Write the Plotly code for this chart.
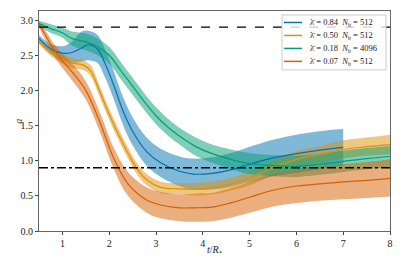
import plotly.graph_objects as go

# ---- data ----
t_blue = [0.5, 0.75, 1.0, 1.2, 1.4, 1.55, 1.75, 1.9, 2.1, 2.3, 2.5, 2.8, 3.1, 3.5, 3.8, 4.2, 4.6, 5.0, 5.5, 6.0, 6.5, 7.0]
a_blue = [2.74, 2.59, 2.53, 2.54, 2.60, 2.65, 2.59, 2.40, 2.07, 1.70, 1.42, 1.13, 0.97, 0.85, 0.81, 0.82, 0.87, 0.95, 1.04, 1.10, 1.15, 1.19]
lo_blue = [2.68, 2.52, 2.43, 2.39, 2.41, 2.43, 2.39, 2.20, 1.87, 1.50, 1.22, 0.93, 0.77, 0.64, 0.59, 0.59, 0.63, 0.70, 0.78, 0.83, 0.88, 0.93]
hi_blue = [2.79, 2.66, 2.63, 2.69, 2.83, 2.85, 2.79, 2.60, 2.27, 1.90, 1.62, 1.33, 1.17, 1.06, 1.03, 1.05, 1.11, 1.20, 1.30, 1.37, 1.42, 1.45]

t_yel = [0.5, 0.75, 1.0, 1.2, 1.45, 1.6, 1.8, 2.0, 2.2, 2.4, 2.6, 2.8, 3.1, 3.5, 4.0, 4.5, 5.0, 5.5, 6.0, 6.5, 7.0, 7.5, 8.0]
a_yel = [2.70, 2.55, 2.45, 2.39, 2.36, 2.28, 1.98, 1.66, 1.37, 1.11, 0.88, 0.73, 0.62, 0.60, 0.60, 0.65, 0.75, 0.90, 1.02, 1.09, 1.16, 1.20, 1.23]
lo_yel = [2.66, 2.49, 2.38, 2.32, 2.29, 2.20, 1.90, 1.58, 1.29, 1.03, 0.80, 0.65, 0.54, 0.52, 0.51, 0.56, 0.65, 0.79, 0.90, 0.97, 1.03, 1.07, 1.09]
hi_yel = [2.74, 2.61, 2.52, 2.46, 2.43, 2.36, 2.06, 1.74, 1.45, 1.19, 0.96, 0.81, 0.70, 0.68, 0.69, 0.74, 0.85, 1.01, 1.14, 1.21, 1.29, 1.33, 1.37]

t_grn = [0.5, 0.75, 1.0, 1.2, 1.5, 1.75, 2.0, 2.25, 2.5, 2.75, 3.0, 3.25, 3.5, 3.85, 4.2, 4.6, 5.0, 5.5, 6.0, 6.5, 7.0, 7.5, 8.0]
a_grn = [2.95, 2.88, 2.82, 2.74, 2.69, 2.62, 2.50, 2.28, 2.06, 1.84, 1.64, 1.48, 1.35, 1.20, 1.10, 1.02, 0.96, 0.93, 0.92, 0.95, 0.99, 1.03, 1.06]
lo_grn = [2.91, 2.82, 2.75, 2.64, 2.57, 2.50, 2.38, 2.16, 1.94, 1.72, 1.52, 1.36, 1.23, 1.07, 0.97, 0.88, 0.81, 0.78, 0.77, 0.80, 0.84, 0.88, 0.91]
hi_grn = [2.99, 2.94, 2.89, 2.84, 2.81, 2.74, 2.62, 2.40, 2.18, 1.96, 1.76, 1.60, 1.47, 1.33, 1.23, 1.16, 1.11, 1.08, 1.07, 1.10, 1.14, 1.18, 1.21]

t_org = [0.5, 0.65, 0.8, 1.0, 1.2, 1.5, 1.8, 2.1, 2.4, 2.8, 3.1, 3.5, 3.8, 4.2, 4.6, 5.0, 5.5, 6.0, 6.5, 7.0, 7.5, 8.0]
a_org = [2.94, 2.77, 2.60, 2.42, 2.27, 2.00, 1.55, 1.03, 0.67, 0.44, 0.37, 0.33, 0.33, 0.34, 0.40, 0.48, 0.58, 0.64, 0.67, 0.70, 0.72, 0.75]
lo_org = [2.90, 2.70, 2.52, 2.32, 2.15, 1.87, 1.41, 0.88, 0.50, 0.26, 0.18, 0.14, 0.13, 0.14, 0.19, 0.26, 0.35, 0.40, 0.43, 0.45, 0.47, 0.49]
hi_org = [2.98, 2.84, 2.68, 2.52, 2.39, 2.13, 1.69, 1.18, 0.84, 0.62, 0.56, 0.52, 0.53, 0.54, 0.61, 0.70, 0.81, 0.88, 0.92, 0.95, 0.98, 1.02]

labels = ["λ̄ = 0.84  <i>N</i><sub>b</sub> = 512",
          "λ̄ = 0.50  <i>N</i><sub>b</sub> = 512",
          "λ̄ = 0.18  <i>N</i><sub>b</sub> = 4096",
          "λ̄ = 0.07  <i>N</i><sub>b</sub> = 512"]
colors = ["#0173b2", "#de8f05", "#029e73", "#d55e00"]
fills = ["rgba(1,115,178,0.5)", "rgba(222,143,5,0.5)", "rgba(2,158,115,0.5)", "rgba(213,94,0,0.5)"]

upper_ref = 2.9
lower_ref = 0.9
x_ticks = [1, 2, 3, 4, 5, 6, 7, 8]
y_ticks = [0.0, 0.5, 1.0, 1.5, 2.0, 2.5, 3.0]
y_ticklabels = ["0.0", "0.5", "1.0", "1.5", "2.0", "2.5", "3.0"]

series = [
    (t_blue, a_blue, lo_blue, hi_blue),
    (t_yel, a_yel, lo_yel, hi_yel),
    (t_grn, a_grn, lo_grn, hi_grn),
    (t_org, a_org, lo_org, hi_org),
]

fig = go.Figure()
for i, (t, a, lo, hi) in enumerate(series):
    fig.add_trace(go.Scatter(x=t, y=lo, mode="lines", line=dict(width=0, shape="spline"),
                             showlegend=False, hoverinfo="skip"))
    fig.add_trace(go.Scatter(x=t, y=hi, mode="lines", line=dict(width=0, shape="spline"),
                             fill="tonexty", fillcolor=fills[i], showlegend=False, hoverinfo="skip"))
for i, (t, a, lo, hi) in enumerate(series):
    fig.add_trace(go.Scatter(x=t, y=a, mode="lines", name=labels[i], showlegend=False,
                             line=dict(color=colors[i], width=1.2, shape="spline")))

fig.add_trace(go.Scatter(x=[0.5, 8], y=[upper_ref, upper_ref], mode="lines",
                         line=dict(color="black", width=1.3, dash="dash"), showlegend=False))
fig.add_trace(go.Scatter(x=[0.5, 8], y=[lower_ref, lower_ref], mode="lines",
                         line=dict(color="black", width=1.3, dash="dashdot"), showlegend=False))

font_family = "Liberation Serif, DejaVu Serif, serif"

# ---- manual compact legend (matplotlib style) ----
W, H = 403, 269
ML, MR, MT, MB = 39, 13, 11, 37.5
pw, ph = W - ML - MR, H - MT - MB
px = lambda x: (x - ML) / pw
py = lambda y: 1 - (y - MT) / ph

shapes = [dict(type="rect", xref="paper", yref="paper", layer="above",
               x0=px(282), x1=px(386), y0=py(70), y1=py(15),
               fillcolor="rgba(255,255,255,0.8)", line=dict(color="#cccccc", width=1))]
annotations = []
for i, lab in enumerate(labels):
    yy = py(22.5 + 13 * i)
    shapes.append(dict(type="line", xref="paper", yref="paper", layer="above",
                       x0=px(284), x1=px(302), y0=yy, y1=yy,
                       line=dict(color=colors[i], width=1.5)))
    annotations.append(dict(xref="paper", yref="paper", x=px(308), y=yy, xanchor="left",
                            yanchor="middle", showarrow=False, text=lab,
                            font=dict(size=8.5, family=font_family, color="#222")))

annotations.append(dict(xref="paper", yref="paper", x=0.5, y=py(251), xanchor="center",
                        yanchor="middle", showarrow=False,
                        text="<i>t</i>/<i>R</i><sub>*</sub>",
                        font=dict(size=10, family=font_family, color="#222")))
annotations.append(dict(xref="paper", yref="paper", x=px(19), y=py(122), xanchor="center",
                        yanchor="middle", showarrow=False, textangle=-90,
                        text="<i>a</i>",
                        font=dict(size=10, family=font_family, color="#222")))

fig.update_layout(
    width=W, height=H,
    margin=dict(l=ML, r=MR, t=MT, b=MB, autoexpand=False),
    paper_bgcolor="white", plot_bgcolor="white",
    font=dict(family=font_family, size=10, color="#222"),
    showlegend=False,
    shapes=shapes, annotations=annotations,
)
fig.update_xaxes(range=[0.5, 8], tickvals=x_ticks, ticks="outside", ticklen=3,
                 showgrid=False, zeroline=False, showline=True, linecolor="#666",
                 linewidth=1, mirror=True, automargin=False)
fig.update_yaxes(range=[0, 3.13], tickvals=y_ticks, ticktext=y_ticklabels, ticks="outside", ticklen=3,
                 showgrid=False, zeroline=False, showline=True, linecolor="#666",
                 linewidth=1, mirror=True, automargin=False)

fig.write_html("out.html", config={"displayModeBar": False},
               post_script="document.body.style.margin='0';document.body.style.overflow='hidden';")
